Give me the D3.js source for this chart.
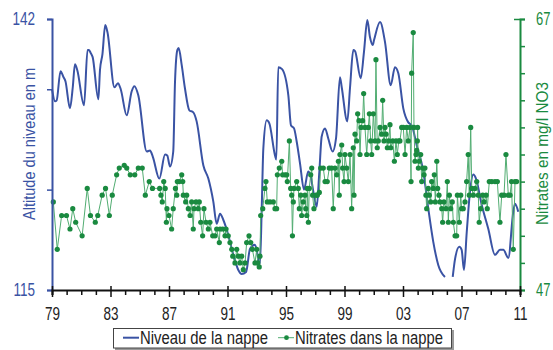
<!DOCTYPE html>
<html>
<head>
<meta charset="utf-8">
<script src="https://cdn.jsdelivr.net/npm/d3@7"></script>
<style>
  body { margin: 0; background: #fff; }
  svg { font-family: "Liberation Sans", Arial, sans-serif; }
</style>
</head>
<body>
<div id="chart"></div>
<script>
// Niveau de la nappe (m), null = pas de mesure
var levelYears = [1979.00, 1979.21, 1979.32, 1979.58, 1979.79, 1979.92, 1980.23, 1980.42, 1980.57, 1980.73,
  1981.19, 1981.43, 1981.53, 1981.65, 1981.78, 1982.17, 1982.28, 1982.45, 1982.64, 1982.79,
  1983.27, 1983.51, 1983.70, 1984.11, 1984.45, 1984.63, 1984.90, 1985.48, 1985.70, 1985.89,
  1986.34, 1986.73, 1986.88, 1987.07, 1987.29, 1987.41, 1987.57, 1987.66, 1987.87, 1988.09,
  1988.39, 1988.66, 1988.89, 1989.35, 1989.69, 1990.03, 1990.26, 1990.49, 1990.71, 1990.99,
  1991.40, 1991.74, 1991.97, 1992.27, 1992.54, 1992.88, 1993.22, 1993.34, 1993.45, 1993.68,
  1993.86, 1994.25, 1994.34, 1994.47, 1994.73, 1995.16, 1995.34, 1995.55, 1995.73, 1995.96,
  1996.23, 1996.52, 1996.69, 1996.87, 1997.10, 1997.28, 1997.44, 1997.67, 1997.89, 1998.19,
  1998.42, 1998.69, 1998.81, 1999.19, 1999.38, 1999.60, 1999.72, 2000.11, 2000.33, 2000.56,
  2000.74, 2000.93, 2001.02, 2001.43, 2001.77, 2002.16, 2002.45, 2002.68, 2003.02, 2003.36,
  2003.60, 2003.94, 2004.39, 2004.73, 2005.07, 2005.41, 2005.87, 2006.10, 2006.40, 2006.56,
  2006.85, 2007.01, 2007.17, 2007.36, 2007.58, 2007.81, 2007.99, 2008.38, 2008.83, 2009.29,
  2009.63, 2009.86, 2010.20, 2010.54, 2010.66, 2010.88]
var levelValues = [135.0, 133.8, 133.9, 136.8, 136.2, 135.8, 133.1, 135.2, 137.5, 136.9,
  133.4, 138.9, 138.9, 138.6, 138.2, 134.0, 136.9, 138.5, 141.4, 140.7,
  135.2, 135.6, 135.0, 132.4, 134.8, 135.3, 134.4, 128.8, 128.9, 128.3,
  126.1, 128.5, 128.4, 127.3, 128.8, 135.7, 138.9, 139.1, 137.4, 135.1,
  132.9, 132.7, 131.8, 127.4, 126.1, 123.8, 121.6, 122.6, 122.0, 120.8,
  118.5, 117.0, 116.6, 116.8, 119.1, 119.5, 117.6, 123.1, 129.1, 131.9,
  131.6, 128.4, 128.0, 137.2, 137.0, 134.4, 131.4, 131.1, 129.8, 127.6,
  125.0, 126.8, 126.3, 124.8, 123.3, 126.8, 130.3, 131.1, 130.1, 128.8,
  130.1, 136.2, 135.2, 131.8, 135.2, 138.9, 138.8, 136.1, 138.7, 141.9,
  140.2, 139.4, 139.9, 141.7, 139.7, 135.4, 137.2, 136.6, 133.1, 131.7,
  131.4, 129.4, 126.8, 123.1, 119.8, 117.5, 116.3, null, 116.3, 118.1,
  119.3, 119.0, 117.0, 120.8, 124.8, 126.5, 126.1, 123.5, 121.1, 118.5,
  119.0, 119.0, 118.2, 122.8, 123.6, 122.8]

// Nitrates dans la nappe (mg/l NO3)
var nitrateYears = [1979.09, 1979.36, 1979.66, 1979.99, 1980.23, 1980.42, 1980.62, 1981.06, 1981.41, 1981.63,
  1981.96, 1982.13, 1982.43, 1982.66, 1982.92, 1983.12, 1983.42, 1983.60, 1983.94, 1984.11,
  1984.35, 1984.66, 1984.90, 1985.17, 1985.38, 1985.65, 1985.87, 1986.36, 1986.45, 1986.54,
  1986.64, 1986.74, 1986.82, 1986.86, 1987.00, 1987.18, 1987.29, 1987.44, 1987.53, 1987.57,
  1987.70, 1987.87, 1987.94, 1987.98, 1988.14, 1988.21, 1988.32, 1988.44, 1988.55, 1988.66,
  1988.71, 1988.85, 1989.00, 1989.07, 1989.17, 1989.30, 1989.39, 1989.53, 1989.69, 1989.80,
  1989.99, 1990.15, 1990.26, 1990.44, 1990.49, 1990.67, 1990.83, 1990.90, 1991.05, 1991.17,
  1991.29, 1991.36, 1991.51, 1991.63, 1991.74, 1991.85, 1991.97, 1992.08, 1992.20, 1992.31,
  1992.47, 1992.59, 1992.70, 1992.88, 1993.00, 1993.07, 1993.17, 1993.22, 1993.27, 1993.41,
  1993.56, 1993.63, 1993.72, 1993.91, 1994.13, 1994.25, 1994.36, 1994.41, 1994.54, 1994.71,
  1994.77, 1994.93, 1995.05, 1995.09, 1995.23, 1995.32, 1995.39, 1995.44, 1995.50, 1995.55,
  1995.73, 1995.84, 1995.91, 1996.01, 1996.07, 1996.18, 1996.30, 1996.35, 1996.42, 1996.46,
  1996.53, 1996.59, 1996.69, 1996.76, 1996.82, 1996.91, 1997.05, 1997.14, 1997.28, 1997.37,
  1997.55, 1997.67, 1997.82, 1997.96, 1998.12, 1998.23, 1998.35, 1998.47, 1998.58, 1998.64,
  1998.69, 1998.81, 1998.87, 1998.97, 1999.03, 1999.15, 1999.26, 1999.38, 1999.49, 1999.60,
  1999.65, 1999.72, 1999.83, 1999.90, 1999.99, 2000.06, 2000.13, 2000.24, 2000.31, 2000.40,
  2000.52, 2000.63, 2000.70, 2000.79, 2000.86, 2000.97, 2001.09, 2001.15, 2001.24, 2001.31,
  2001.43, 2001.54, 2001.61, 2001.70, 2001.77, 2001.84, 2001.93, 2002.02, 2002.11, 2002.16,
  2002.30, 2002.41, 2002.52, 2002.61, 2002.71, 2002.79, 2002.91, 2003.02, 2003.14, 2003.25,
  2003.36, 2003.48, 2003.55, 2003.59, 2003.70, 2003.75, 2003.82, 2003.89, 2003.94, 2003.98,
  2004.00, 2004.05, 2004.11, 2004.21, 2004.28, 2004.35, 2004.44, 2004.50, 2004.57, 2004.62,
  2004.73, 2004.80, 2004.89, 2004.96, 2005.07, 2005.14, 2005.21, 2005.31, 2005.37, 2005.46,
  2005.53, 2005.65, 2005.71, 2005.80, 2005.94, 2006.03, 2006.10, 2006.17, 2006.26, 2006.37,
  2006.44, 2006.56, 2006.67, 2006.72, 2006.85, 2006.95, 2007.01, 2007.12, 2007.24, 2007.35,
  2007.46, 2007.53, 2007.63, 2007.70, 2007.81, 2007.92, 2008.04, 2008.15, 2008.21, 2008.31,
  2008.45, 2008.54, 2008.68, 2008.76, 2008.90, 2009.07, 2009.29, 2009.45, 2009.63, 2009.75,
  2009.91, 2010.04, 2010.20, 2010.32, 2010.42, 2010.54, 2010.66, 2010.77]
var nitrateValues = [53.5, 50, 52.5, 52.5, 51.5, 53, 52, 51, 54.5, 52.5,
  52, 52.5, 54, 54.5, 52.5, 54, 55.5, 56, 56.2, 56,
  55.5, 55.5, 56, 56, 54, 55, 54.5, 54.5, 54, 53.5,
  55, 54.5, 52, 53, 52.5, 51.5, 53, 54.5, 54, 55,
  55, 55.5, 55, 54, 53.5, 54, 53, 52.5, 53.5, 51.5,
  53, 53.5, 53, 53.5, 52, 51, 53, 52, 51.5, 52,
  51, 51, 51.5, 50.5, 51.5, 51.5, 51, 51.5, 51, 50.5,
  50, 49.5, 49, 50, 49.5, 49, 49.5, 48.5, 49, 50.5,
  51, 50.5, 50, 49, 50, 49, 48.7, 49.5, 52.5, 53,
  54.5, 55, 53.5, 53.5, 53.5, 53, 53, 55.5, 56, 56.5,
  55.5, 55.5, 55.5, 55, 58, 54.5, 54, 51, 53.5, 54.5,
  55, 54.5, 53, 54, 52.5, 53.5, 54, 53, 52.5, 54.5,
  52, 54.5, 55.5, 56, 54, 53, 54, 54, 54.2, 56,
  56, 55, 55, 56, 56, 53, 56, 55.5, 56.5, 54,
  57, 57.7, 56, 55, 57, 56, 55, 57, 53, 57.5,
  54, 58.5, 58, 60, 59.5, 57, 59, 59.5, 61.5, 59,
  57, 59, 60, 58, 57, 60, 58, 64, 57.5, 58,
  59, 58.5, 61, 58, 59, 58.5, 57.5, 58, 59.2, 57.5,
  58, 56.5, 58, 57, 58, 58, 59, 59, 57, 59,
  58, 59, 55, 63, 66, 59, 56.5, 57, 57.3, 58,
  59, 56, 56.5, 57, 55, 56, 55.5, 56, 54, 53,
  54.5, 54, 53.5, 55, 54.5, 55.5, 53.5, 56.5, 54.5, 54,
  53.5, 53, 52, 53.5, 53, 55, 52, 54, 53, 53.5,
  52, 51, 51, 54, 52, 54, 53, 53, 53.5, 55,
  57, 54, 59, 54.5, 54, 54.5, 55, 54, 52, 53,
  54, 53.5, 54, 53, 55, 55, 55, 55, 52, 54,
  54, 57, 54, 54, 55, 50, 55, 55]

var xTicks = [1979, 1983, 1987, 1991, 1995, 1999, 2003, 2007, 2011]
var leftTicks = [115, 125, 135, 142]
var leftLabels = [115, 142]
var rightTicks = [47, 49, 51, 53, 55, 57, 59, 61, 63, 65, 67]
var rightLabels = [47, 67]

var blue = '#3a53a4'
var green = '#1a8a40'
var greenLine = '#52ad72'

var width = 553
var height = 350

var svg = d3.select('#chart')
  .append('svg')
  .attr('width', width)
  .attr('height', height)

var x = d3.scaleLinear().domain([1979, 2011]).range([52, 520])
var yLeft = d3.scaleLinear().domain([115, 142]).range([290, 19])
var yRight = d3.scaleLinear().domain([47, 67]).range([290, 19])

var levelData = levelYears.map((d, i) => ({ year: d, value: levelValues[i] }))
var nitrateData = nitrateYears.map((d, i) => ({ year: d, value: nitrateValues[i] }))

// narrow look: squeeze each text to the width of a condensed face
function squeeze (sel, ratio) {
  sel.each(function () {
    var t = d3.select(this)
    if (!t.text()) return
    var w = this.getComputedTextLength()
    t.attr('textLength', w * ratio).attr('lengthAdjust', 'spacingAndGlyphs')
  })
}

// Niveau de la nappe
var levelLine = d3.line()
  .defined(d => d.value !== null)
  .x(d => x(d.year))
  .y(d => yLeft(d.value))
  .curve(d3.curveMonotoneX)

svg.append('path')
  .datum(levelData)
  .attr('fill', 'none')
  .attr('stroke', blue)
  .attr('stroke-width', 2)
  .attr('d', levelLine)

// Nitrates
var nitrateLine = d3.line()
  .x(d => x(d.year))
  .y(d => yRight(d.value))

svg.append('path')
  .datum(nitrateData)
  .attr('fill', 'none')
  .attr('stroke', greenLine)
  .attr('stroke-width', 1)
  .attr('d', nitrateLine)

svg.selectAll('.dot')
  .data(nitrateData)
  .enter().append('circle')
  .attr('class', 'dot')
  .attr('cx', d => x(d.year))
  .attr('cy', d => yRight(d.value))
  .attr('r', 2.6)
  .attr('fill', green)

// Axes
var leftAxis = d3.axisLeft(yLeft)
  .tickValues(leftTicks)
  .tickSize(5)
  .tickPadding(12)
  .tickFormat(d => leftLabels.indexOf(d) >= 0 ? d : '')
var gl = svg.append('g')
  .attr('transform', 'translate(52,0)')
  .call(leftAxis)
gl.select('.domain').attr('stroke', blue).attr('stroke-width', 2)
gl.selectAll('line').attr('stroke', blue).attr('stroke-width', 1.5)
gl.selectAll('text').attr('fill', blue).style('font-size', '18px').call(squeeze, 0.75)

var rightAxis = d3.axisRight(yRight)
  .tickValues(rightTicks)
  .tickSize(5)
  .tickPadding(11)
  .tickFormat(d => rightLabels.indexOf(d) >= 0 ? d : '')
var gr = svg.append('g')
  .attr('transform', 'translate(520,0)')
  .call(rightAxis)
gr.select('.domain').attr('stroke', green).attr('stroke-width', 2)
gr.selectAll('line').attr('stroke', green).attr('stroke-width', 1.5)
gr.selectAll('.tick').filter(d => d === 67).select('line').attr('x1', -6)
gr.selectAll('text').attr('fill', green).style('font-size', '18px').call(squeeze, 0.72)

var bottomAxis = d3.axisBottom(x)
  .tickValues(d3.range(1979, 2012))
  .tickSize(5)
  .tickPadding(12)
  .tickFormat(d => xTicks.indexOf(d) >= 0 ? String(d % 100).padStart(2, '0') : '')
var gb = svg.append('g')
  .attr('transform', 'translate(0,290)')
  .call(bottomAxis)
gb.select('.domain').attr('stroke', '#111').attr('stroke-width', 2.2)
gb.selectAll('line').attr('stroke', '#111').attr('stroke-width', 1.5)
gb.selectAll('.tick').filter(d => xTicks.indexOf(d) >= 0).select('line')
  .attr('y1', -4).attr('y2', 7)
gb.selectAll('text').attr('fill', '#222').style('font-size', '18px').call(squeeze, 0.75)

// Axis titles
svg.append('text')
  .attr('transform', 'translate(35,144) rotate(-90)')
  .attr('text-anchor', 'middle')
  .attr('fill', blue)
  .style('font-size', '17px')
  .attr('textLength', 152)
  .attr('lengthAdjust', 'spacingAndGlyphs')
  .text('Altitude du niveau en m')

svg.append('text')
  .attr('transform', 'translate(548,153.5) rotate(-90)')
  .attr('text-anchor', 'middle')
  .attr('fill', green)
  .style('font-size', '17px')
  .attr('textLength', 143)
  .attr('lengthAdjust', 'spacingAndGlyphs')
  .text('Nitrates en mg/l NO3')

// Legend
var legend = svg.append('g')
legend.append('rect')
  .attr('x', 115).attr('y', 330)
  .attr('width', 339).attr('height', 20)
  .attr('fill', '#9a9a9a')
legend.append('rect')
  .attr('x', 113.5).attr('y', 328.5)
  .attr('width', 338).attr('height', 19.5)
  .attr('fill', '#fff')
  .attr('stroke', '#444')
  .attr('stroke-width', 1)

legend.append('line')
  .attr('x1', 123).attr('x2', 139)
  .attr('y1', 337.7).attr('y2', 337.7)
  .attr('stroke', blue).attr('stroke-width', 2)
legend.append('text')
  .attr('x', 140).attr('y', 344)
  .attr('fill', '#222')
  .style('font-size', '17.5px')
  .attr('textLength', 128)
  .attr('lengthAdjust', 'spacingAndGlyphs')
  .text('Niveau de la nappe')

legend.append('line')
  .attr('x1', 278).attr('x2', 294)
  .attr('y1', 337.7).attr('y2', 337.7)
  .attr('stroke', greenLine).attr('stroke-width', 1)
legend.append('circle')
  .attr('cx', 286.5).attr('cy', 337.7).attr('r', 2.4)
  .attr('fill', green)
legend.append('text')
  .attr('x', 295).attr('y', 344)
  .attr('fill', '#222')
  .style('font-size', '17.5px')
  .attr('textLength', 148)
  .attr('lengthAdjust', 'spacingAndGlyphs')
  .text('Nitrates dans la nappe')
</script>
</body>
</html>
